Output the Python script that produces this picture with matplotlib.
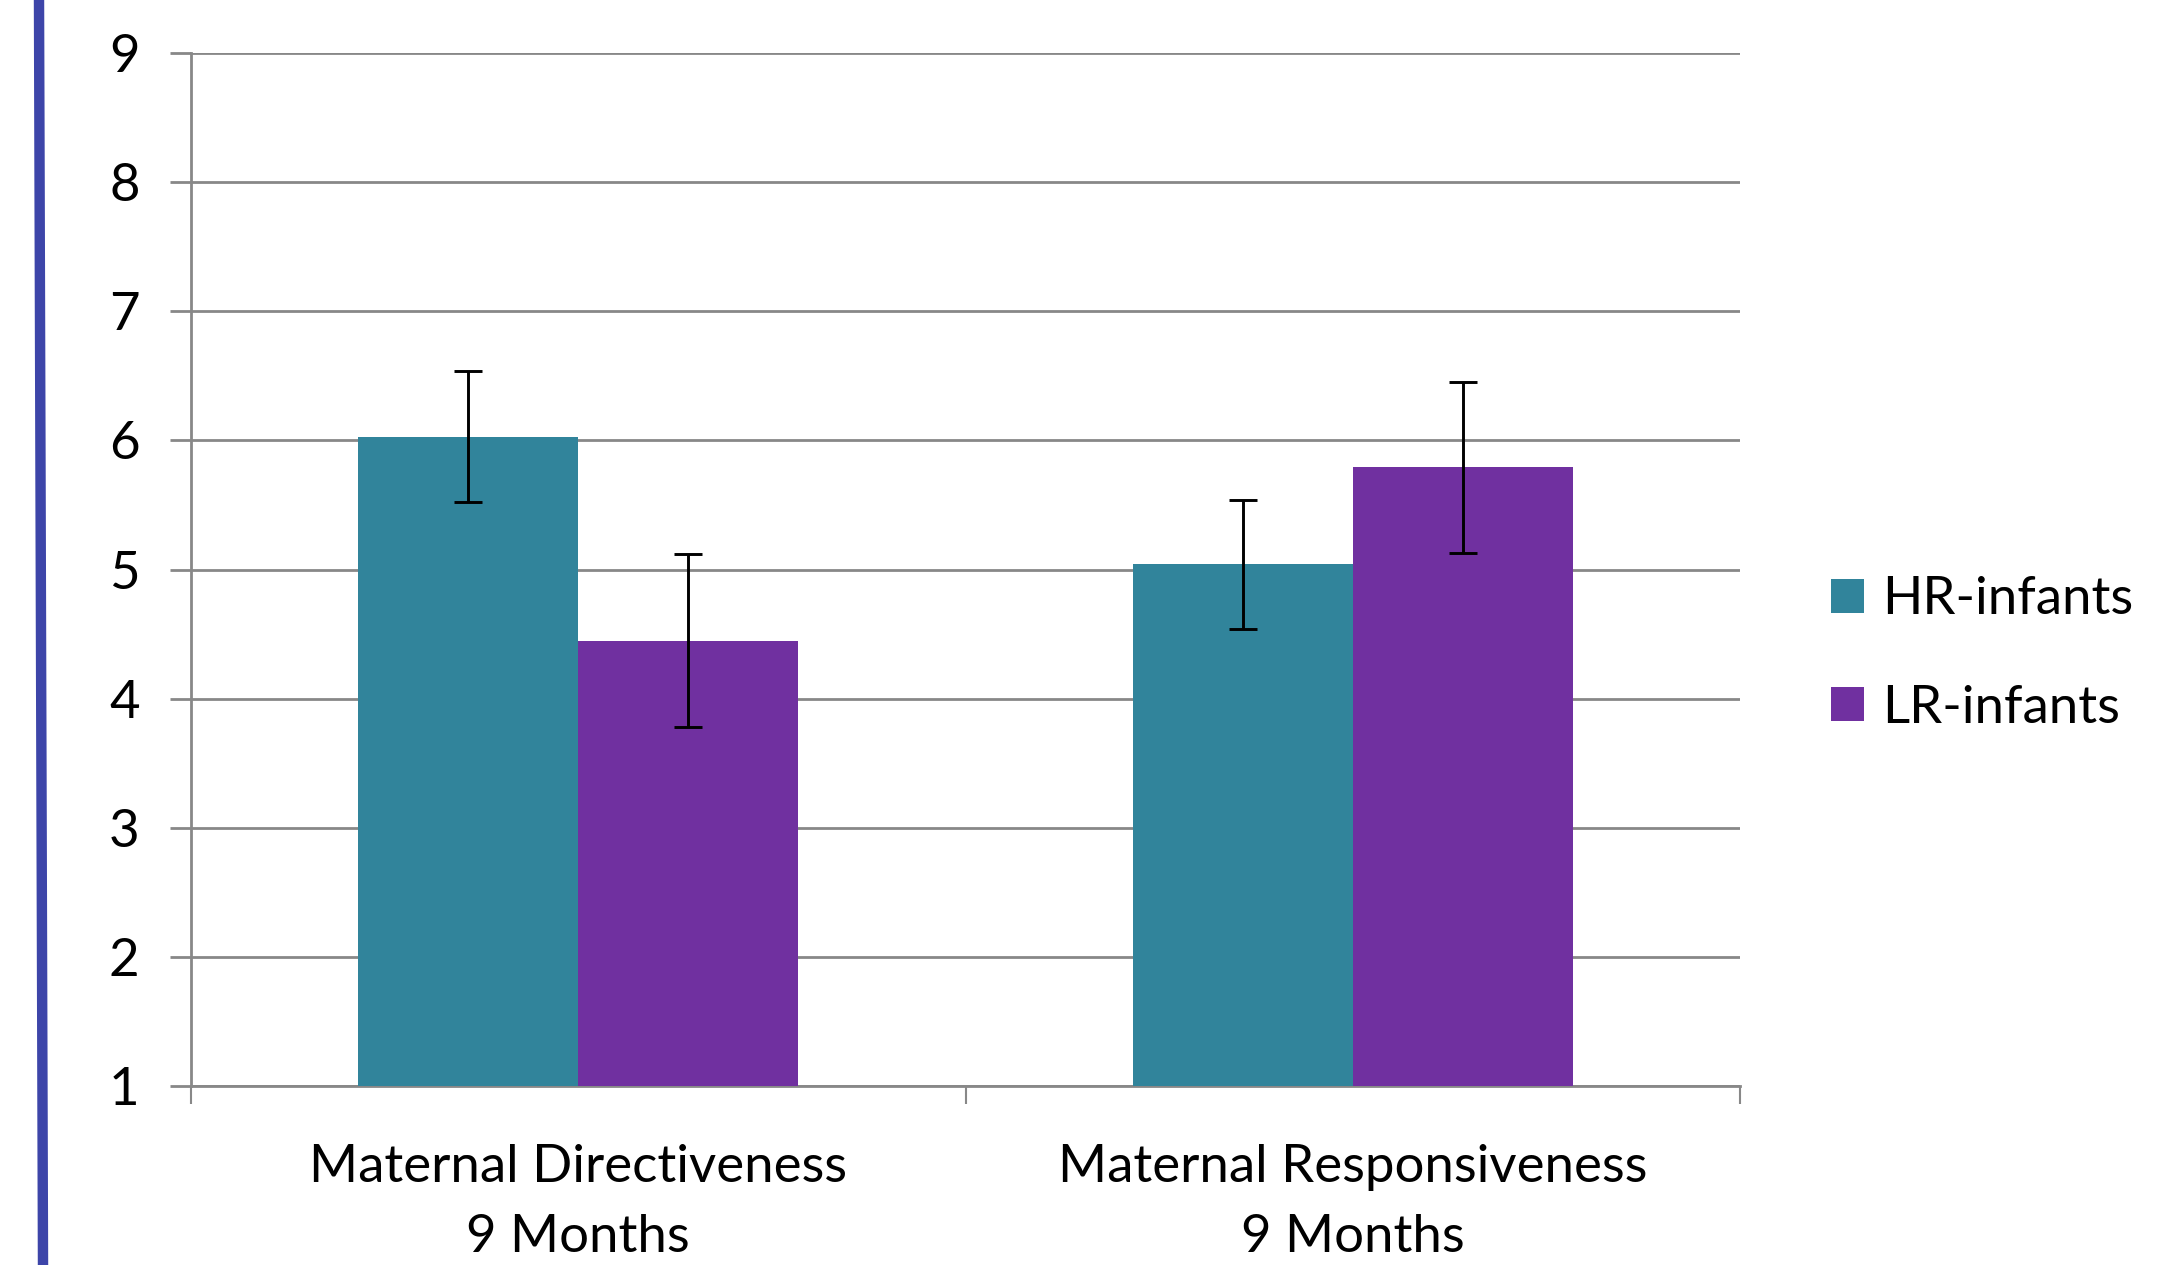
import matplotlib
matplotlib.use("Agg")
import matplotlib.pyplot as plt
from matplotlib.lines import Line2D
from matplotlib.patches import Patch
import numpy as np

plt.rcParams['font.family'] = ['Lato', 'DejaVu Sans']

categories = ["Maternal Directiveness\n9 Months", "Maternal Responsiveness\n9 Months"]
series = ["HR-infants", "LR-infants"]
hr_values = [6.03, 5.04]
hr_errors = [0.51, 0.50]
lr_values = [4.45, 5.79]
lr_errors = [0.67, 0.66]
yticks = [1, 2, 3, 4, 5, 6, 7, 8, 9]

teal = "#31849B"
purple = "#7030A0"
grid_col = "#888888"
FS = 38

W, H = 2182, 1265
dpi = 100
fig = plt.figure(figsize=(W / dpi, H / dpi), dpi=dpi)
ax = fig.add_axes([191 / W, 1 - 1086 / H, (1740 - 191) / W, (1086 - 53) / H])

x = np.arange(len(categories))
bw = 0.284
ekw = dict(ecolor="black", elinewidth=2.1, capsize=10, capthick=2.1)
ax.bar(x - bw / 2, np.array(hr_values) - 1, bw, bottom=1, color=teal, label=series[0],
       yerr=hr_errors, error_kw=ekw, zorder=3)
ax.bar(x + bw / 2, np.array(lr_values) - 1, bw, bottom=1, color=purple, label=series[1],
       yerr=lr_errors, error_kw=ekw, zorder=3)

ax.set_xlim(-0.5, len(categories) - 0.5)
ax.set_ylim(1, 9)
ax.set_yticks(yticks)
ax.set_yticklabels([str(t) for t in yticks], fontsize=FS)
ax.yaxis.grid(True, color=grid_col, linewidth=2.0, zorder=0)
ax.set_axisbelow(True)

for s in ["top", "right"]:
    ax.spines[s].set_visible(False)
ax.spines["left"].set_color(grid_col)
ax.spines["left"].set_linewidth(2.0)
ax.spines["bottom"].set_color(grid_col)
ax.spines["bottom"].set_linewidth(2.0)

ax.tick_params(axis="y", length=15, width=2.0, color=grid_col, pad=22, labelcolor="black")
# category boundary ticks on x axis
ax.set_xticks([-0.5, 0.5, 1.5])
ax.set_xticklabels([])
ax.tick_params(axis="x", length=13, width=1.5, color=grid_col)
for i, lab in enumerate(categories):
    ax.annotate(lab, xy=(x[i], 0), xycoords=ax.get_xaxis_transform(),
                xytext=(0, -42), textcoords="offset points", ha="center", va="top",
                fontsize=FS, linespacing=1.6)

handles = [Patch(facecolor=teal, label=series[0]), Patch(facecolor=purple, label=series[1])]
fig.legend(handles=handles, loc="center left", bbox_to_anchor=(1831 / W, 1 - 654 / H),
           frameon=False, fontsize=FS, handlelength=0.62, handleheight=0.62,
           handletextpad=0.35, labelspacing=1.16, borderpad=0, borderaxespad=0)

fig.add_artist(Line2D([39 / W, 43 / W], [1, 0], color="#3D45A9", linewidth=7.5,
                      transform=fig.transFigure))

fig.savefig("out.png", dpi=dpi, facecolor="white")
